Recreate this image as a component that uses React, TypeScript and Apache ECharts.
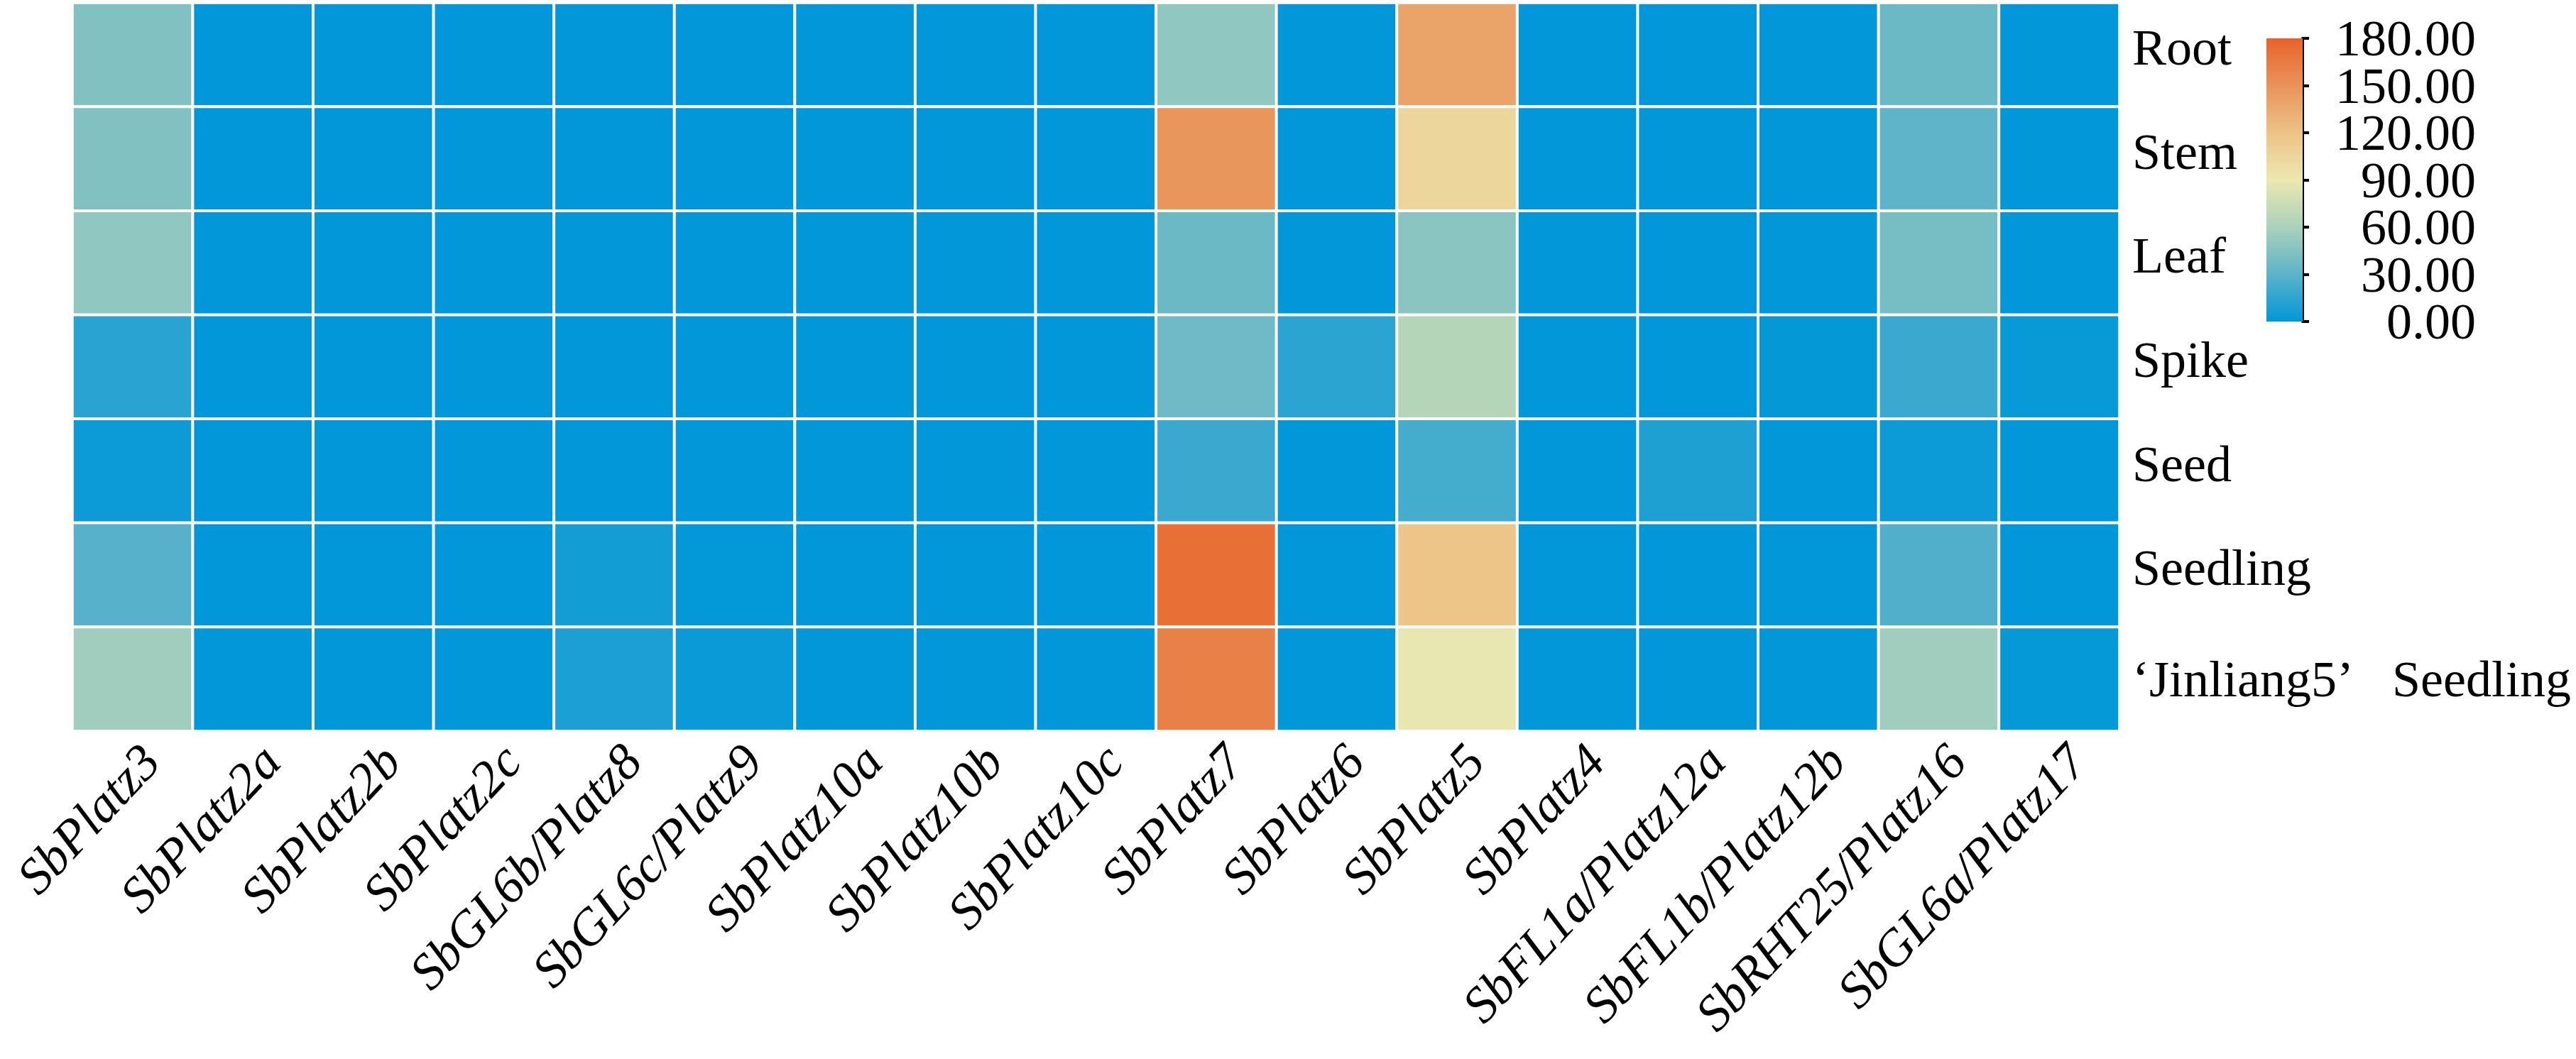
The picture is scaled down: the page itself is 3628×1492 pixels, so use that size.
import React, { useEffect, useRef } from "react";
import * as echarts from "echarts";

const genes = [
  "SbPlatz3", "SbPlatz2a", "SbPlatz2b", "SbPlatz2c", "SbGL6b/Platz8", "SbGL6c/Platz9",
  "SbPlatz10a", "SbPlatz10b", "SbPlatz10c", "SbPlatz7", "SbPlatz6", "SbPlatz5",
  "SbPlatz4", "SbFL1a/Platz12a", "SbFL1b/Platz12b", "SbRHT25/Platz16", "SbGL6a/Platz17",
];
const tissues = ["Root", "Stem", "Leaf", "Spike", "Seed", "Seedling", "‘Jinliang5’\u00a0\u00a0\u00a0Seedling"];

const root = [44, 0.5, 0.5, 0.5, 0.5, 0.5, 0.5, 0.5, 0.5, 50, 0.5, 140, 0.5, 0.5, 0.5, 36, 0.5];
const stem = [44, 0.5, 0.5, 0.5, 0.5, 0.5, 0.5, 0.5, 0.5, 148, 0.5, 104, 0.5, 0.5, 0.5, 31, 0.5];
const leaf = [50, 0.5, 0.5, 0.5, 0.5, 0.5, 0.5, 0.5, 0.5, 36, 0.5, 48, 0.5, 0.5, 0.5, 40, 0.5];
const spike = [13, 0.5, 0.5, 0.5, 0.5, 0.5, 0.5, 0.5, 0.5, 37, 14, 65, 0.5, 0.5, 1.5, 19, 2.5];
const seed = [4, 0.5, 0.5, 0.5, 0.5, 0.5, 0.5, 0.5, 0.5, 19, 0.5, 22, 0.5, 10, 0.5, 4, 0.5];
const seedling = [28, 0.5, 0.5, 0.5, 6, 1, 0.5, 0.5, 0.5, 172, 0.5, 118, 0.5, 0.5, 0.5, 26, 0.5];
const jinliang5 = [56, 0.5, 0.5, 0.5, 9, 3, 0.5, 0.5, 0.5, 162, 0.5, 88, 0.5, 0.5, 0.5, 56, 2];

const rows = [root, stem, leaf, spike, seed, seedling, jinliang5];

const scaleMin = 0;
const scaleMax = 180;
const scaleTickLabels = ["0.00", "30.00", "60.00", "90.00", "120.00", "150.00", "180.00"];
const palette = ["#0097d8", "#5db3c9", "#aad1bb", "#ece8b0", "#edc286", "#e9935a", "#e8632a"];

const FONT = "'Liberation Serif', 'Times New Roman', serif";

export default function App() {
  const ref = useRef<HTMLDivElement>(null);
  useEffect(() => {
    if (!ref.current) return;
    const chart = echarts.init(ref.current, undefined, { renderer: "svg" });
    const data: number[][] = [];
    rows.forEach((r, yi) => r.forEach((v, xi) => data.push([xi, yi, v])));

    const stops = palette.map((c, i) => ({ offset: i / (palette.length - 1), color: c }));
    const lastTissue = tissues[tissues.length - 1];

    chart.setOption({
      animation: false,
      backgroundColor: "#ffffff",
      textStyle: { fontFamily: FONT },
      grid: [
        { left: 102, top: 4, width: 2883, height: 1026 },
        { left: 127, top: 4, width: 2883, height: 1026 },
        { left: 3192, top: 54, width: 51, height: 399 },
      ],
      xAxis: [
        {
          type: "category", gridIndex: 0, data: genes,
          axisLine: { show: false }, axisTick: { show: false }, axisLabel: { show: false },
          splitLine: { show: false },
        },
        {
          type: "category", gridIndex: 1, data: genes, position: "bottom",
          axisLine: { show: false }, axisTick: { show: false }, splitLine: { show: false },
          axisLabel: {
            rotate: 47, interval: 0, margin: 30, fontSize: 72, fontStyle: "italic",
            color: "#000", fontFamily: FONT,
          },
        },
        {
          type: "category", gridIndex: 2, data: ["scale"], show: false,
        },
      ],
      yAxis: [
        {
          type: "category", gridIndex: 0, data: tissues, inverse: true, position: "right",
          axisLine: { show: false }, axisTick: { show: false }, splitLine: { show: false },
          axisLabel: {
            margin: 18, fontSize: 72, color: "#000", fontFamily: FONT,
            formatter: (v: string) => (v === lastTissue ? `{n|${v}}` : `{up|${v}}`),
            rich: {
              up: { fontSize: 72, fontFamily: FONT, color: "#000", padding: [0, 0, 20, 0] },
              n: { fontSize: 72, fontFamily: FONT, color: "#000" },
            },
          },
        },
        { type: "value", gridIndex: 1, show: false },
        {
          type: "value", gridIndex: 2, min: scaleMin, max: scaleMax, show: false,
        },
        {
          type: "category", gridIndex: 2, data: scaleTickLabels, boundaryGap: false,
          position: "right",
          axisLine: { show: true, lineStyle: { color: "#000", width: 4 } },
          axisTick: { show: true, interval: 0, length: 9, lineStyle: { color: "#000", width: 4 } },
          splitLine: { show: false },
          axisLabel: {
            interval: 0, margin: 244, align: "right", fontSize: 72, lineHeight: 60,
            color: "#000", fontFamily: FONT,
          },
        },
      ],
      visualMap: {
        type: "continuous", show: false, min: scaleMin, max: scaleMax, seriesIndex: 0,
        inRange: { color: palette },
      },
      series: [
        {
          type: "heatmap", xAxisIndex: 0, yAxisIndex: 0, data,
          itemStyle: { borderColor: "#ffffff", borderWidth: 4 },
          emphasis: { disabled: true },
        },
        {
          type: "bar", xAxisIndex: 2, yAxisIndex: 2, data: [scaleMax], barWidth: "100%",
          silent: true,
          itemStyle: { color: new echarts.graphic.LinearGradient(0, 1, 0, 0, stops) },
        },
      ],
    });
    return () => chart.dispose();
  }, []);
  return (
    <div
      ref={ref}
      style={{ position: "absolute", left: 0, top: 0, width: 3628, height: 1492 }}
    />
  );
}
